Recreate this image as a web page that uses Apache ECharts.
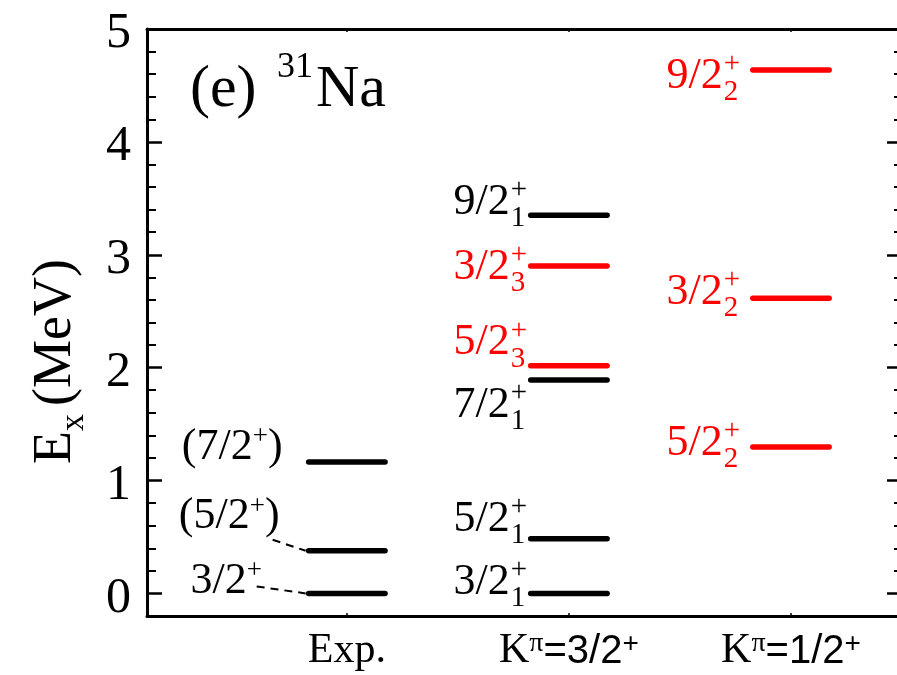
<!DOCTYPE html>
<html>
<head>
<meta charset="utf-8">
<script src="https://cdn.jsdelivr.net/npm/echarts@6/dist/echarts.min.js"></script>
<style>
  html, body { margin: 0; padding: 0; background: #fff; }
  #chart-container { width: 897px; height: 675px; }
</style>
</head>
<body>
<div id="chart-container"></div>
<script>
// columns on the x axis
var columnPos = [1, 2, 3];

// Exp. levels (MeV)
var expE = [0, 0.378, 1.164];
var expSpin = ['3/2', '5/2', '7/2'];
var expTentative = [false, true, true];
var expLinked = [true, true, false];

// K^pi = 3/2+ band
var k32E = [0, 0.485, 1.89, 2.017, 2.90, 3.35];
var k32Spin = ['3/2', '5/2', '7/2', '5/2', '3/2', '9/2'];
var k32Sub = ['1', '1', '1', '3', '3', '1'];
var k32Red = [false, false, false, true, true, false];

// K^pi = 1/2+ band
var k12E = [1.297, 2.614, 4.636];
var k12Spin = ['5/2', '3/2', '9/2'];
var k12Sub = ['2', '2', '2'];

var yTicks = [0, 1, 2, 3, 4, 5];
var yMinorTicks = [0.2, 0.4, 0.6, 0.8, 1.2, 1.4, 1.6, 1.8, 2.2, 2.4, 2.6, 2.8,
  3.2, 3.4, 3.6, 3.8, 4.2, 4.4, 4.6, 4.8];

// label placement (pixels), kept apart from the values
var expLabelDy = [3, -19, 0];
var expLabelGap = [47, 29, 26];
var k32LabelDy = [4, -4, 40, -8, 16, 2];
var k12LabelDy = [11, 9, 21];
var bandLabelGap = { k32: 21, k12: 30 };

var SERIF = 'Liberation Serif';
var SANS = 'Liberation Sans';
var RED = '#ff0000';
var HALF = 0.172;

(function () {
  var dom = document.getElementById('chart-container');
  var myChart = echarts.init(dom, null, { renderer: 'canvas' });

  var levels = [];
  expE.forEach(function (e, i) {
    levels.push({ col: columnPos[0], e: e, kind: 'exp', spin: expSpin[i], tent: expTentative[i],
      link: expLinked[i], red: false, dy: expLabelDy[i], gap: expLabelGap[i] });
  });
  k32E.forEach(function (e, i) {
    levels.push({ col: columnPos[1], e: e, kind: 'k32', spin: k32Spin[i], sub: k32Sub[i],
      red: k32Red[i], dy: k32LabelDy[i], gap: bandLabelGap.k32 });
  });
  k12E.forEach(function (e, i) {
    levels.push({ col: columnPos[2], e: e, kind: 'k12', spin: k12Spin[i], sub: k12Sub[i],
      red: true, dy: k12LabelDy[i], gap: bandLabelGap.k12 });
  });

  // text placed by its baseline
  function txt(str, x, baseline, fs, align, color, family) {
    return {
      type: 'text', x: x, y: baseline - 0.3375 * fs,
      style: { text: str, fill: color, font: fs + 'px ' + (family || SERIF),
        align: align, verticalAlign: 'middle' }
    };
  }

  function renderLevel(params, api) {
    var lv = levels[params.dataIndex];
    var a = api.coord([api.value(0) - HALF, api.value(1)]);
    var b = api.coord([api.value(0) + HALF, api.value(1)]);
    var color = lv.red ? RED : '#000';
    var kids = [{
      type: 'line',
      shape: { x1: a[0], y1: a[1], x2: b[0], y2: b[1] },
      style: { stroke: color, lineWidth: 5.5, lineCap: 'round' }
    }];
    var base = a[1] + lv.dy;
    var right = a[0] - lv.gap;
    if (lv.kind === 'exp') {
      var fs = 44, sfs = 27;
      var supL;
      if (lv.tent) {
        kids.push(txt(')', right, base, fs, 'right', color));
        supL = right - 15 - 15;
        kids.push(txt('(' + lv.spin, supL, base, fs, 'right', color));
      } else {
        supL = right - 15;
        kids.push(txt(lv.spin, supL, base, fs, 'right', color));
      }
      kids.push(txt('+', supL, base - 16, sfs, 'left', color));
      if (lv.link) {
        var sx = lv.tent ? right - 7 : right - 5;
        var sy = lv.tent ? base + 8 : base - 10;
        kids.push({
          type: 'line',
          shape: { x1: sx, y1: sy, x2: a[0] - 3, y2: a[1] },
          style: { stroke: '#000', lineWidth: 2, lineDash: [8, 6] }
        });
      }
    } else {
      var mfs = 44, sfs2 = 29;
      kids.push(txt(lv.spin, right, base, mfs, 'right', color));
      kids.push(txt('+', right + 1, base - 17, sfs2, 'left', color));
      kids.push(txt(lv.sub, right + 1, base + 11, sfs2, 'left', color));
    }
    return { type: 'group', children: kids };
  }

  function xLabel(v) {
    var i = columnPos.indexOf(v);
    if (i === 0) return '{m|Exp.}';
    if (i === 1) return '{k|K}{p|π}{s|=3/2}{q|+}';
    if (i === 2) return '{k|K}{p|π}{s|=1/2}{q|+}';
    return '';
  }

  var xBase = {
    type: 'value', min: 0.1, max: 3.5,
    splitLine: { show: false },
    axisLine: { onZero: false, lineStyle: { color: '#000', width: 3 } },
    axisTick: { inside: true, length: 3, customValues: columnPos, lineStyle: { color: '#000', width: 1.5 } }
  };
  var yBase = {
    type: 'value', min: -0.2, max: 5,
    splitLine: { show: false },
    axisLine: { onZero: false, lineStyle: { color: '#000', width: 3 } }
  };

  function gtext(str, x, baseline, fs) {
    return { type: 'text', x: x, y: baseline - 0.3375 * fs,
      style: { text: str, font: fs + 'px ' + SERIF, fill: '#000', align: 'left', verticalAlign: 'middle' } };
  }

  var option = {
    animation: false,
    backgroundColor: '#fff',
    grid: { left: 147, right: -5, top: 29, bottom: 59, outerBoundsMode: 'none' },
    xAxis: [
      Object.assign({}, xBase, {
        position: 'bottom',
        axisLabel: {
          customValues: columnPos, margin: 14, formatter: xLabel,
          rich: {
            m: { fontSize: 42, fontFamily: SERIF, color: '#000', verticalAlign: 'bottom' },
            k: { fontSize: 42, fontFamily: SERIF, color: '#000', verticalAlign: 'bottom' },
            p: { fontSize: 28, fontFamily: SERIF, color: '#000', verticalAlign: 'top' },
            s: { fontSize: 40, fontFamily: SANS, color: '#000', verticalAlign: 'bottom' },
            q: { fontSize: 28, fontFamily: SANS, color: '#000', verticalAlign: 'top' }
          }
        }
      }),
      Object.assign({}, xBase, { position: 'top', axisLabel: { show: false } })
    ],
    yAxis: [
      Object.assign({}, yBase, {
        position: 'left',
        axisTick: { inside: true, length: 15, customValues: yTicks, lineStyle: { color: '#000', width: 2.5 } },
        axisLabel: {
          customValues: yTicks, margin: 16, color: '#000', padding: [10, 0, 0, 0],
          formatter: '{n|{value}}',
          rich: { n: { fontSize: 50, fontFamily: SERIF, color: '#000' } }
        }
      }),
      Object.assign({}, yBase, {
        position: 'left',
        axisLine: { show: false, onZero: false },
        axisTick: { inside: true, length: 9, customValues: yMinorTicks, lineStyle: { color: '#000', width: 2 } },
        axisLabel: { show: false }
      }),
      Object.assign({}, yBase, {
        position: 'right',
        axisTick: { inside: true, length: 15, customValues: yTicks, lineStyle: { color: '#000', width: 2.5 } },
        axisLabel: { show: false }
      }),
      Object.assign({}, yBase, {
        position: 'right',
        axisLine: { show: false, onZero: false },
        axisTick: { inside: true, length: 8, customValues: yMinorTicks, lineStyle: { color: '#000', width: 2 } },
        axisLabel: { show: false }
      })
    ],
    graphic: [
      {
        type: 'group', x: 0, y: 0,
        children: [
          gtext('(e)', 190, 110, 60),
          gtext('31', 277, 80, 36),
          gtext('Na', 316, 110, 60)
        ]
      },
      {
        type: 'group', x: 74, y: 360, rotation: Math.PI / 2,
        children: [
          gtext('E', -104, 0, 54),
          gtext('x', -71, 12, 34),
          gtext('(MeV)', -46, 0, 54)
        ]
      }
    ],
    series: [
      {
        type: 'custom',
        xAxisIndex: 0, yAxisIndex: 0,
        clip: false,
        renderItem: renderLevel,
        data: levels.map(function (lv) { return [lv.col, lv.e]; })
      }
    ]
  };
  myChart.setOption(option);
  window.addEventListener('resize', myChart.resize);
})();
</script>
</body>
</html>
